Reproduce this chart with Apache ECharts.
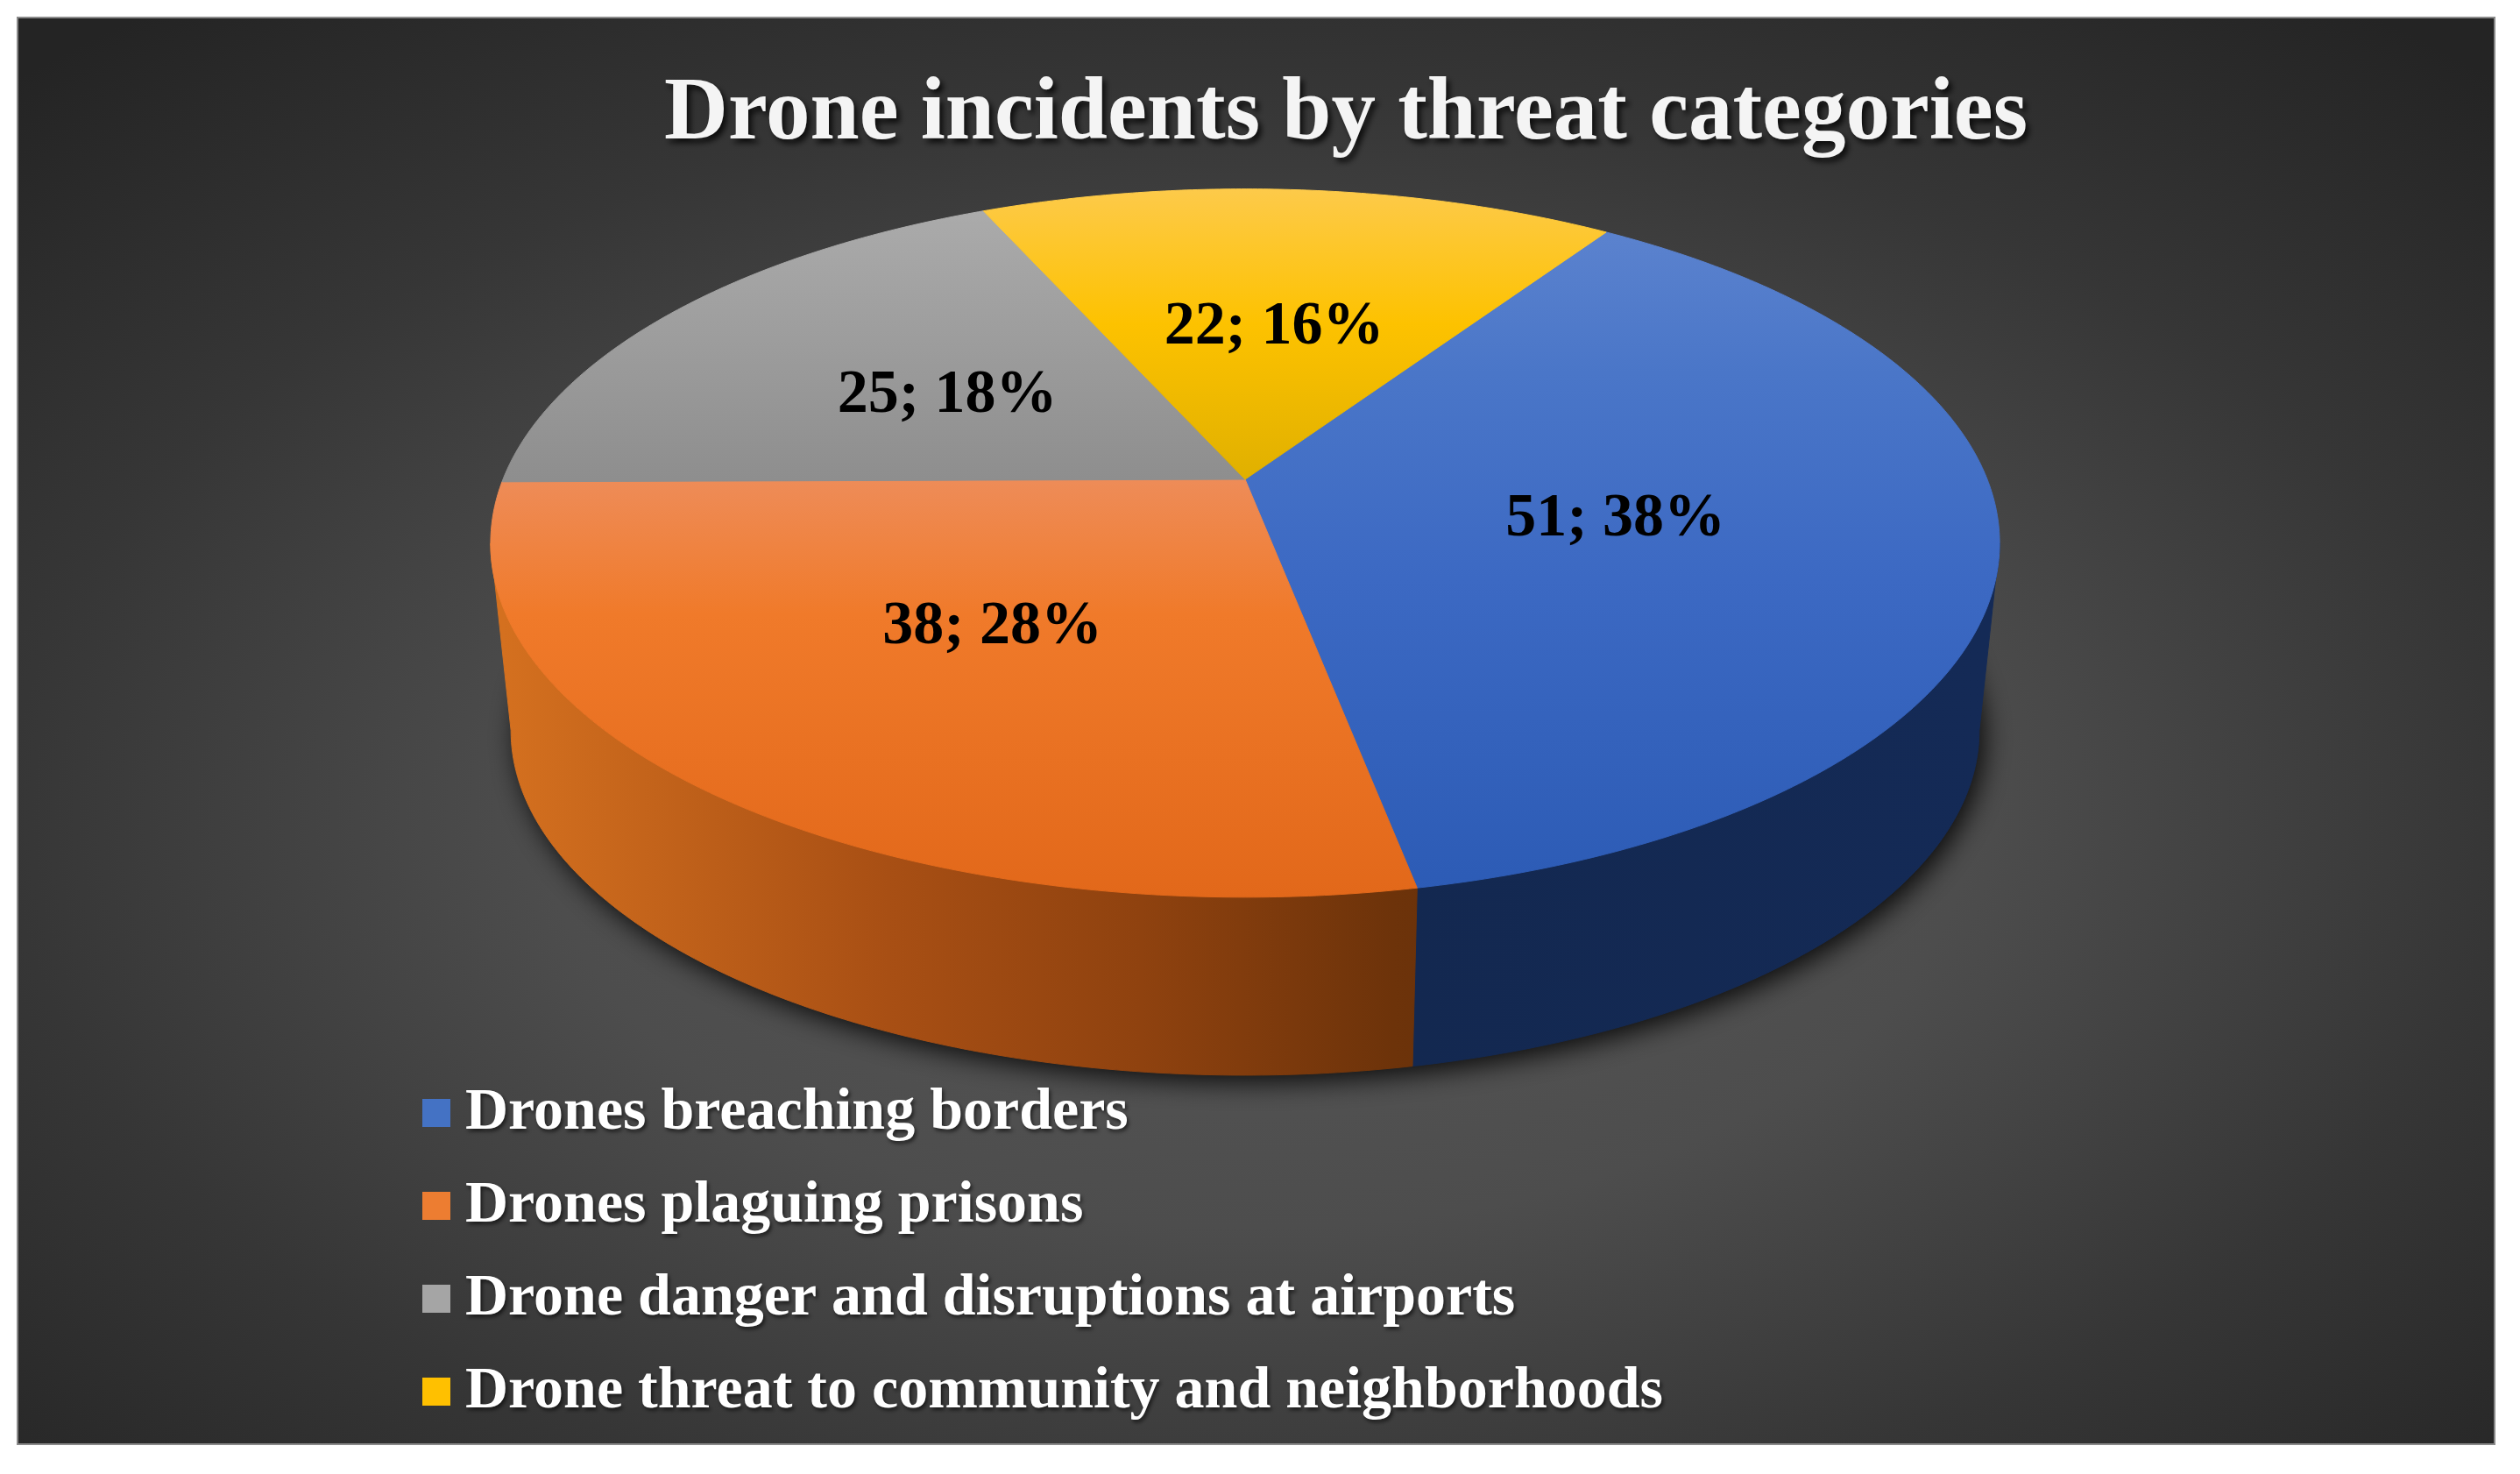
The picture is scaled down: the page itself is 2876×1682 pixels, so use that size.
<!DOCTYPE html>
<html>
<head>
<meta charset="utf-8">
<script src="https://cdn.jsdelivr.net/npm/echarts@6/dist/echarts.min.js"></script>
<style>
  html, body { margin: 0; padding: 0; background: #fff; }
  #chart { width: 2876px; height: 1682px; }
</style>
</head>
<body>
<div id="chart"></div>
<script>
var categories = [
  'Drones breaching borders',
  'Drones plaguing prisons',
  'Drone danger and disruptions at airports',
  'Drone threat to community and neighborhoods'
];
var incidents = [51, 38, 25, 22];
var total = incidents.reduce(function (a, b) { return a + b; }, 0);

// legend / base colors
var baseColors = ['#4472c4', '#ed7d31', '#a5a5a5', '#ffc000'];
// top face gradient stops (global y over the pie)
var topStops = [
  [[0, '#6086d0'], [0.26, '#4a76c8'], [0.55, '#3c69c3'], [1, '#2c5bb5']],
  [[0.41, '#ee8c58'], [0.6, '#f07a2a'], [1, '#e2681a']],
  [[0, '#adadad'], [0.41, '#8e8e8e']],
  [[0, '#fdca4a'], [0.19, '#fdc200'], [0.41, '#e0b000']]
];
// side wall gradient stops (global x over the pie)
var sideStops = [
  [[0, '#17306a'], [0.6, '#132850'], [1, '#142a56']],
  [[0, '#d4701f'], [0.26, '#a84f14'], [0.43, '#8f420f'], [0.6, '#6d330a'], [1, '#4a2206']],
  [[0, '#7a7a7a'], [1, '#3a3a3a']],
  [[0, '#b08a00'], [1, '#5a4600']]
];

// pie layout (pixels) and a light perspective
var PIE = { cx: 1421, cy: 547, a: 847, b: 391, k: 0.18, depth: 216, taper: 0.973, startDeg: 34 };

function P(theta, r, bottom) {
  var s = bottom ? PIE.taper : 1;
  var u = r * Math.sin(theta), v = -r * Math.cos(theta);
  var w = 1 - PIE.k * v;
  return [PIE.cx + s * PIE.a * u / w, PIE.cy + (bottom ? PIE.depth : 0) + s * PIE.b * v / w];
}

function grad(stops, vertical) {
  var x0 = PIE.cx - PIE.a, x1 = PIE.cx + PIE.a;
  var y0 = PIE.cy - PIE.b / (1 + PIE.k), y1 = PIE.cy + PIE.b / (1 - PIE.k);
  var cs = stops.map(function (s) { return { offset: s[0], color: s[1] }; });
  return vertical
    ? new echarts.graphic.LinearGradient(0, y0, 0, y1, cs, true)
    : new echarts.graphic.LinearGradient(x0, 0, x1, 0, cs, true);
}

function arc(a0, a1, r, bottom) {
  var pts = [];
  var n = Math.max(2, Math.ceil((a1 - a0) / (Math.PI / 360)));
  for (var j = 0; j <= n; j++) pts.push(P(a0 + (a1 - a0) * j / n, r, bottom));
  return pts;
}

function makeRender(idx) {
  return function (params, api) {
    var val = api.value(0);
    var before = 0;
    for (var j = 0; j < idx; j++) before += incidents[j];
    var start = PIE.startDeg * Math.PI / 180;
    var a0 = start + before / total * Math.PI * 2;
    var a1 = a0 + val / total * Math.PI * 2;
    var children = [];

    if (idx === 0) {
      // drop shadow under the whole pie
      children.push({
        type: 'polygon', z2: 0,
        shape: { points: arc(0, Math.PI * 2, 1, true) },
        style: { fill: '#1c1c1c', shadowBlur: 30, shadowColor: 'rgba(0,0,0,0.85)', shadowOffsetX: 6, shadowOffsetY: 8 }
      });
    }

    // outer wall, only the part facing the viewer
    var edge = Math.acos(-PIE.k);
    var lo = Math.max(a0, edge), hi = Math.min(a1, Math.PI * 2 - edge);
    if (hi > lo) {
      var top = arc(lo, hi, 1, false);
      var bot = arc(lo, hi, 1, true).reverse();
      var sg = grad(sideStops[idx], false);
      children.push({
        type: 'polygon', z2: 1,
        shape: { points: top.concat(bot) },
        style: { fill: sg, stroke: sg, lineWidth: 1 }
      });
    }

    // top face
    var tg = grad(topStops[idx], true);
    children.push({
      type: 'polygon', z2: 10,
      shape: { points: [[PIE.cx, PIE.cy]].concat(arc(a0, a1, 1, false)) },
      style: { fill: tg, stroke: tg, lineWidth: 1 }
    });

    // label
    var mid = (a0 + a1) / 2;
    var lp = P(mid, 0.5, false);
    children.push({
      type: 'text', z2: 20,
      x: lp[0], y: lp[1] + 6,
      style: {
        text: val + '; ' + Math.round(val / total * 100) + '%',
        font: 'bold 70px "Liberation Serif", "Times New Roman", serif',
        fill: '#000', align: 'center', verticalAlign: 'middle'
      }
    });
    return { type: 'group', children: children };
  };
}

var series = categories.map(function (name, i) {
  return {
    name: name,
    type: 'custom',
    coordinateSystem: 'none',
    renderItem: makeRender(i),
    itemStyle: { color: baseColors[i] },
    data: [[incidents[i]]],
    silent: true
  };
});

var myChart = echarts.init(document.getElementById('chart'));
var option = {
  backgroundColor: '#ffffff',
  animation: false,
  graphic: [
    {
      type: 'rect', z: -10,
      x: 20, y: 20,
      scaleX: 2827 / 1628,
      shape: { x: 0, y: 0, width: 1628, height: 1628 },
      style: {
        fill: new echarts.graphic.RadialGradient(0.5, 0.56, 0.72, [
          { offset: 0, color: '#585858' },
          { offset: 0.4, color: '#4d4d4d' },
          { offset: 0.7, color: '#363636' },
          { offset: 1, color: '#242424' }
        ])
      }
    },
    {
      type: 'rect', z: -9,
      shape: { x: 20, y: 20, width: 2827, height: 1628 },
      style: { fill: 'none', stroke: '#8a8a8a', lineWidth: 2 }
    }
  ],
  title: {
    text: 'Drone incidents by threat categories',
    left: 1536,
    top: 82,
    textAlign: 'center',
    padding: 0,
    textStyle: {
      color: '#f4f4f4',
      fontFamily: '"Liberation Serif", "Times New Roman", serif',
      fontWeight: 'bold',
      fontSize: 101,
      lineHeight: 100,
      textShadowColor: 'rgba(0,0,0,0.75)',
      textShadowBlur: 6,
      textShadowOffsetX: 4,
      textShadowOffsetY: 5
    }
  },
  legend: {
    orient: 'vertical',
    left: 482,
    top: 1236,
    padding: 0,
    itemWidth: 32,
    itemHeight: 32,
    itemGap: 38,
    icon: 'rect',
    selectedMode: false,
    data: categories,
    textStyle: {
      color: '#ffffff',
      fontFamily: '"Liberation Serif", "Times New Roman", serif',
      fontWeight: 'bold',
      fontSize: 68,
      lineHeight: 68,
      padding: [0, 0, 0, 12],
      textShadowColor: 'rgba(0,0,0,0.6)',
      textShadowBlur: 4,
      textShadowOffsetX: 2,
      textShadowOffsetY: 3
    }
  },
  series: series
};
myChart.setOption(option);
window.addEventListener('resize', function () {
  myChart.resize();
});
</script>
</body>
</html>
